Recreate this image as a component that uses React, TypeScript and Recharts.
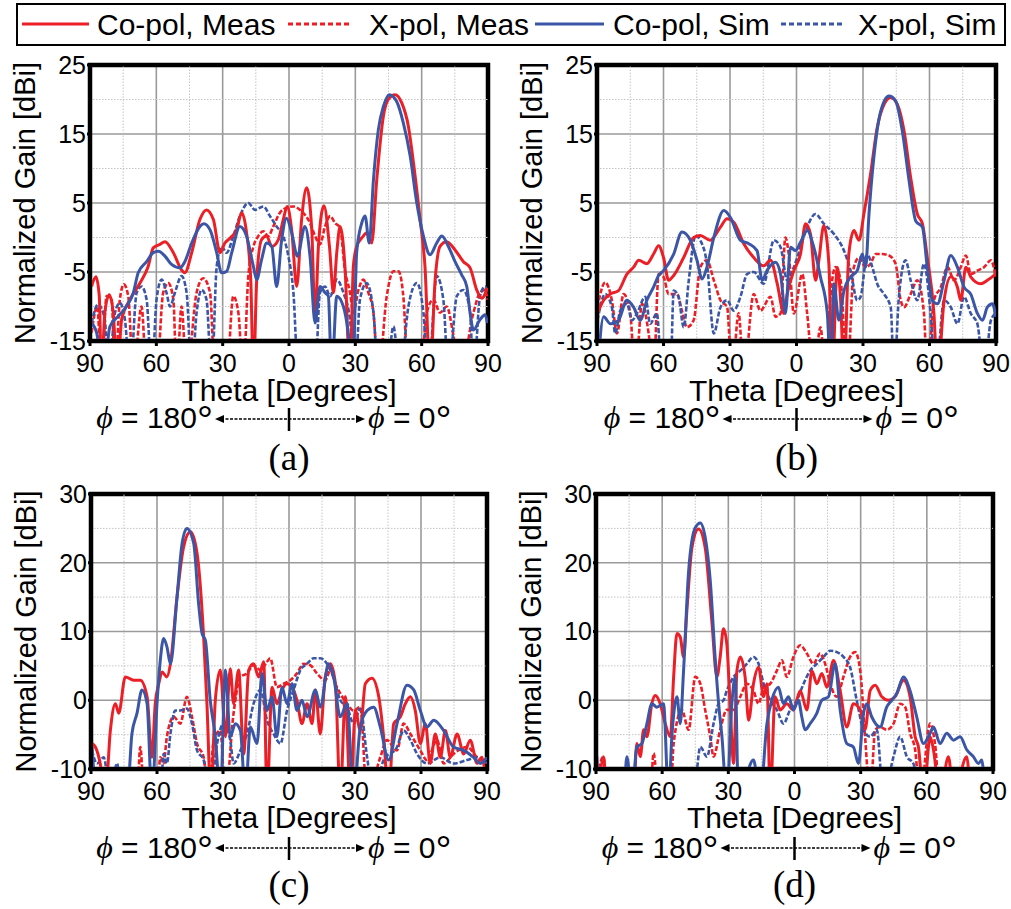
import React from "react";
import { CartesianGrid, Line, LineChart, ReferenceArea, ReferenceLine, XAxis, YAxis } from "recharts";

type Pt = [number, number];

const FONT = "'Liberation Sans', Arial, Helvetica, sans-serif";
const SERIF = "'Liberation Serif', 'Times New Roman', serif";
const RED = "#ec1f26";
const BLUE = "#3b56a6";

const thetaTicks = [-90, -60, -30, 0, 30, 60, 90];
const thetaMinor = [-75, -45, -15, 15, 45, 75];
const gainTicksAB = [-15, -5, 5, 15, 25];
const gainMinorAB = [-10, 0, 10, 20];
const gainTicksCD = [-10, 0, 10, 20, 30];
const gainMinorCD = [-5, 5, 15, 25];

const seriesNames = ["Co-pol, Meas", "X-pol, Meas", "Co-pol, Sim", "X-pol, Sim"];
const captions = ["(a)", "(b)", "(c)", "(d)"];

// (a)
const aCoMeas: Pt[] = [[-89.3,-7.1],[-87.3,-5.7],[-85.8,-8.5],[-84.8,-20],[-83.3,-10.9],[-81.3,-8.3],[-79.5,-10.9],[-77.7,-20],[-75.7,-11.9],[-71.9,-9],[-67.4,-6.6],[-63.7,-4.2],[-61.4,-1.5],[-58.4,-1],[-56.1,-0.6],[-52.3,-2.2],[-48.6,-4.7],[-47.1,-5.1],[-44,-2.2],[-40.3,2.6],[-37.3,4],[-34.2,2.6],[-31.2,-2.2],[-29,-0.8],[-26.7,-0.1],[-23.7,1.1],[-21.4,3.6],[-19.2,0.7],[-17.3,-6.1],[-16.1,-20],[-14.6,-6.1],[-12.4,-0.3],[-10.1,0.2],[-7.8,-1.3],[-4.8,-0.3],[-2.6,2.6],[-0.8,4.5],[1.2,1.1],[3.5,-7.1],[5.7,2.6],[8,7.2],[10.3,1.1],[11.8,-11.9],[13.3,-1.3],[15.8,4.6],[18.3,-1.3],[20.1,-8],[21.6,-2.2],[23.1,1.6],[25.3,-4.2],[27.6,-20],[29.1,-4.2],[30.6,-1.3],[33.6,0.2],[35.1,0.7],[37.4,-0.8],[39.7,8.4],[42.7,17.6],[44.9,20],[48,20.7],[51,19.5],[54,16.1],[56.3,10.8],[59.3,2.6],[61.5,-4.2],[63.8,-20],[66.1,-6.1],[68.3,-1.3],[71.3,-0.6],[75.1,-1.8],[78.9,-3.5],[81.9,-4.4],[84.9,-7.6],[87.2,-8.8],[89.7,-7.3]];
const aCoSim: Pt[] = [[-89.3,-12.4],[-87,-13.8],[-84,-20],[-81,-12.9],[-77.2,-11.4],[-73.5,-10],[-70.4,-8],[-68.2,-5.1],[-64.4,-3.5],[-61.4,-2.2],[-59.1,-2],[-56.1,-2.7],[-53.1,-3.9],[-49.3,-4.4],[-47.1,-3.5],[-44,-0.8],[-40.3,1.6],[-38.5,2],[-35.7,1.1],[-32.7,-2.2],[-30.5,-5.1],[-28.2,-4.9],[-25.9,-2.2],[-22.2,1.6],[-19.2,0.2],[-16.1,-4.2],[-14.6,-6.1],[-12.4,-3.2],[-10.1,-0.8],[-7.8,-1.3],[-5.6,-7.1],[-3.3,-0.3],[-1.1,2.8],[1.2,0.7],[3.8,-2.7],[7.2,1.6],[9.5,-2.7],[11.8,-12.4],[14,-7.1],[16.3,-8],[17.8,-8.5],[19.3,-20],[21.6,-8.5],[24.6,-10],[26.8,-13.8],[28.8,-20],[30.6,-2.2],[32.9,2.1],[34.4,3.1],[36.3,-0.8],[38.2,8.4],[40.4,15.6],[42.7,19],[45.4,20.7],[48.7,19.7],[51.7,16.6],[54.8,11.8],[57.8,5],[60.8,0.2],[63.8,-2.5],[66.8,-0.8],[69.1,0.2],[72.1,-1.3],[75.1,-3.5],[78.1,-5.4],[80.4,-7.1],[81.9,-10.9],[83.4,-13.4],[86.4,-11.9],[88.7,-11.2],[89.7,-12.4]];
const aXMeas: Pt[] = [[-89.3,-13.8],[-86.7,-10],[-84.8,-20],[-82.5,-8.5],[-80.2,-9],[-78.7,-20],[-76.5,-9],[-74.7,-6.8],[-72.7,-8.5],[-70.4,-20],[-66.7,-10],[-64.4,-20],[-59.9,-20],[-56.9,-8],[-54.6,-6.6],[-52.3,-9],[-50.8,-20],[-48.6,-10],[-46.3,-20],[-41.8,-8],[-38.8,-5.9],[-35.7,-8],[-33.5,-20],[-28.2,-20],[-25.2,-8.5],[-22.9,-10.9],[-20.7,-20],[-18.4,-5.6],[-16.1,-1.3],[-13.9,0.2],[-11.6,0.9],[-9.4,0.2],[-7.1,1.6],[-4.1,3.6],[-1.1,4.3],[2,4.5],[5,4],[7.2,3.3],[9.5,2.1],[11.8,0.2],[14,-1],[16.3,1.6],[18.6,3.1],[20.8,2.1],[23.1,1.4],[25.3,-4.7],[27.6,-8],[29.1,-10.9],[31.4,-7.6],[33.6,-6.1],[35.9,-8],[38.2,-10.9],[40.4,-20],[44.2,-8.5],[47.2,-4.9],[49.5,-4.9],[51.7,-8.5],[54,-20],[59.3,-20],[62.3,-10.9],[65.3,-9],[68.3,-10.9],[71.3,-10],[74.4,-14.3],[77.4,-20],[83.4,-10.9],[86.4,-8],[88.7,-7.6],[89.7,-9]];
const aXSim: Pt[] = [[-89.3,-12.4],[-86.3,-9.7],[-83.3,-11.9],[-81.7,-20],[-78.7,-10.9],[-76.5,-9.5],[-74.2,-11.9],[-71.9,-20],[-68.9,-8],[-66.7,-7.1],[-64.4,-9],[-62.1,-20],[-59.9,-9],[-57.6,-6.1],[-55.4,-8],[-53.8,-10],[-51.6,-8],[-48.6,-5.6],[-46.3,-8],[-44,-20],[-41.8,-10.9],[-39.5,-7.6],[-37.3,-9],[-35,-20],[-32.7,-4.2],[-30.5,-1.3],[-28.2,-2.2],[-25.2,0.2],[-22.2,3.1],[-18.4,5],[-15.4,4],[-11.6,4.5],[-8.6,3.1],[-5.6,1.6],[-2.6,0.2],[-0.3,-2.7],[2,-8],[4.2,-20],[11.8,-20],[14,-8],[16.3,-7.1],[18.6,-8.5],[21.6,-6.1],[24.6,-8],[27.6,-11.9],[29.9,-20],[32.1,-9],[35.1,-6.6],[38.2,-10.9],[40.4,-20],[44.2,-20],[47.2,-12.9],[50.2,-20],[54,-10],[57.8,-6.6],[60.8,-10.9],[63,-20],[66.8,-5.6],[69.8,-9],[72.1,-20],[75.9,-8.5],[78.9,-7.6],[81.9,-10.9],[83.4,-20],[86.4,-8.5],[88.7,-7.1],[89.7,-8]];

// (b)
const bCoMeas: Pt[] = [[-89.8,-11],[-87,-9.1],[-84,-8.2],[-80.3,-7.7],[-76.5,-5.3],[-73.5,-4.3],[-71.2,-3.3],[-67.5,-3.8],[-64.5,-2.4],[-62.2,-1.2],[-60,-2.9],[-57.7,-6.2],[-55.4,-5.5],[-50.9,-2.9],[-46.4,0],[-43.4,0.3],[-38.9,-0.4],[-34.3,1.5],[-31.3,2.7],[-28.3,2.2],[-23.8,-0.9],[-19.3,-2.9],[-14.8,-4.1],[-11.7,-3.3],[-8.7,-6.7],[-5.7,-11],[-4.2,-8.2],[-1.2,-4.8],[1.8,-2.4],[4.1,2],[6.3,0.5],[8.6,-6.2],[10.1,-3.3],[12.3,1.7],[14.6,-3.8],[16.1,-20],[18.4,-4.3],[19.9,-9.1],[21.4,-20],[23.6,-2.4],[25.9,1],[28.2,-0.4],[30.4,3.4],[33.4,9.2],[36.4,15.9],[39.5,19.3],[42.5,20.3],[45.5,19.3],[48.5,15.5],[51.5,8.7],[54.5,3.4],[56.8,2],[59,-2.9],[62,-11],[63.6,-20],[66.6,-9.1],[69.6,-5.7],[72.6,-7.2],[74.1,-9.1],[76.4,-4.3],[78.6,-5.7],[83.1,-6.7],[86.1,-6.2],[89.9,-5.3]];
const bCoSim: Pt[] = [[-89.8,-20],[-87,-11.5],[-84,-12.5],[-80.3,-12],[-76.5,-9.1],[-73.5,-10.1],[-70.5,-12],[-67.5,-9.1],[-64.5,-7.2],[-62.2,-5.5],[-60,-4.8],[-55.4,-2.4],[-51.7,0.8],[-47.9,-0.4],[-44.9,-3.3],[-42.6,-6],[-40.4,-4.3],[-37.3,0],[-32.8,3.9],[-29.8,2.9],[-25.3,-0.4],[-21.5,-0.9],[-17.8,-1.9],[-15.5,-6.2],[-13.3,-4.8],[-9.5,-3.6],[-7.2,-5.3],[-5,-11],[-2.7,-1.4],[-0.5,-1.9],[1.8,-0.7],[4.8,1],[7.8,-1.4],[10.8,-5.7],[13.9,-11],[15.4,-20],[16.9,-6.7],[19.1,-12],[21.4,-7.7],[24.4,-5.7],[27.4,-4.8],[29.7,-2.4],[31.2,-4.3],[32.7,3.4],[34.9,11.6],[38,18.3],[41.7,20.5],[44.7,19.8],[47.7,15.5],[50.8,8.2],[53.8,2.4],[56.8,1.5],[59,-4.3],[61.3,-9.1],[63.6,-9.6],[66.6,-6.2],[69.6,-2.6],[72.6,-4.3],[75.6,-7.2],[78.6,-8.2],[81.6,-11],[83.9,-12],[86.1,-10.1],[88.4,-9.6],[89.9,-11.5]];
const bXMeas: Pt[] = [[-89.8,-10.1],[-86.3,-6.5],[-83.3,-9.1],[-81,-13.9],[-78,-8.2],[-75,-11],[-72.7,-20],[-69.7,-9.6],[-66.7,-13.9],[-64.5,-20],[-62.2,-5.3],[-60,-5.7],[-57.7,-8.2],[-53.9,-8.2],[-51.7,-10.6],[-49.4,-13],[-46.4,-12],[-43.4,-4.3],[-40.4,-3.3],[-37.3,-6.2],[-34.3,-9.1],[-31.3,-10.1],[-29.1,-20],[-26.1,-11],[-23.8,-20],[-19.3,-8.2],[-16.3,-10.6],[-11.7,-8.6],[-9.5,-11.5],[-7.2,-11],[-5,0],[-3.5,-2.4],[-1.2,-11],[2.6,-5.3],[4.8,-11],[7.8,-20],[10.8,-13],[13.1,-20],[15.4,-8.2],[17.6,-4.3],[19.9,-6.2],[22.9,-20],[25.9,-4.3],[28.2,-2.9],[31.2,-4.3],[33.4,-3.8],[35.7,-2.4],[38.7,-2.4],[41.7,-2.6],[44.7,-3.8],[47,-9.1],[48.5,-10.1],[51.5,-8.2],[54.5,-6.2],[57.5,-11],[59,-20],[62,-9.1],[65.1,-7.2],[68.1,-4.3],[71.1,-6.2],[74.1,-4.3],[76.4,-2.6],[78.6,-5.3],[81.6,-4.8],[84.6,-4.3],[87.7,-3.3],[89.9,-5.7]];
const bXSim: Pt[] = [[-89.8,-12],[-86.3,-8.2],[-83.3,-10.1],[-81.8,-13.9],[-79.5,-10.6],[-76.5,-9.6],[-74.2,-12],[-72,-11],[-68.2,-8.6],[-66,-12.5],[-63,-11],[-60.7,-20],[-56.9,-20],[-55.4,-7.7],[-53.2,-8.6],[-50.9,-13],[-48.6,-6.2],[-45.5,0.3],[-43.4,-0.4],[-40.4,-3.8],[-37.3,-13.9],[-34.3,-10.1],[-31.3,-9.1],[-28.3,-10.6],[-25.3,-8.6],[-22.3,-5.3],[-19.3,-5],[-14.8,-6.7],[-10.2,-0.4],[-7.2,-1.4],[-4.2,-6.2],[-1.2,-4.3],[1.8,-1.4],[4.8,1.5],[8.6,3.4],[12.3,2],[16.9,0.5],[21.4,-1.9],[24.4,-4.8],[27.4,-9.1],[28.9,-8.6],[31.9,-2.4],[34.2,-4.3],[36.4,-6.7],[39.5,-8.2],[42.5,-10.1],[44,-20],[46.2,-8.6],[49.2,-3.3],[51.5,-6.2],[54.5,-9.1],[57.5,-3.8],[60.5,-11],[62.8,-20],[66.6,-9.1],[69.6,-10.1],[72.6,-12.5],[75.6,-8.6],[78.6,-11],[81.6,-12.5],[84.6,-20],[87.7,-12],[89.9,-11]];

// (c)
const cCoMeas: Pt[] = [[-89.5,-6.3],[-88,-6.8],[-85.8,-9.2],[-83.5,-14],[-81.2,-4.4],[-78.9,-0.5],[-77.4,-1.9],[-74.4,3.4],[-70.6,2.9],[-67.6,2.9],[-64.5,0.5],[-62.3,-8.3],[-60.8,-0.5],[-59.2,2.4],[-57.7,4.1],[-55.5,3.4],[-53.9,5.3],[-50.9,15],[-47.9,22.3],[-44.8,24.5],[-41.8,21.4],[-38.8,9.2],[-37.3,-0.5],[-35.5,-14],[-33.5,0],[-31.2,4.4],[-28.9,-5.3],[-26.7,4.6],[-25.2,-0.5],[-22.9,4.4],[-20.6,-7.8],[-18.3,4.4],[-16.1,5.3],[-13.8,3.4],[-11.5,5.6],[-10,-14],[-7.7,1.9],[-5.5,-0.5],[-3.2,1.5],[-0.9,2.4],[1.4,1.9],[3.6,0],[5.9,-3.4],[8.2,-0.5],[10.5,-3.4],[12,1.5],[14.2,-4.9],[16.5,3.4],[18.8,5.3],[21.1,2.4],[23.3,-14],[25.6,0.5],[27.9,-14],[30.2,-1.5],[32.4,-4.4],[34.7,2.4],[37.7,3.2],[40.8,0.5],[43,-5.3],[45.3,-14],[47.6,-3.4],[50.6,-2.4],[52.9,-0.5],[55.2,0.5],[57.4,-1.5],[59.7,-6.3],[62,-3.4],[64.2,-9.2],[66.5,-4.9],[68.8,-8.3],[71.1,-4.4],[73.3,-8.3],[76.4,-4.9],[79.4,-7.8],[82.4,-5.8],[85.5,-9.2],[87.7,-8.3],[89.7,-14]];
const cCoSim: Pt[] = [[-89.5,-6.8],[-87.3,-14],[-73.6,-14],[-71.4,-4.9],[-69.1,-1.9],[-66.8,1.5],[-64.5,-0.5],[-62.3,-14],[-60,-0.5],[-58.5,5.8],[-57,9],[-55.5,7.8],[-53.9,5.3],[-50.9,15],[-48.6,22.8],[-46.4,25],[-43.3,22.8],[-41.1,14.1],[-39.5,9.7],[-38,8.7],[-35.8,0],[-33.5,-5.3],[-31.2,-14],[-28.9,4.4],[-26.7,-5.3],[-24.4,-3.4],[-22.1,-4.4],[-19.8,-14],[-17.6,-3.9],[-14.5,-6.3],[-12.3,3.9],[-10,-1.5],[-7.7,0.5],[-5.5,-5.3],[-3.2,1.9],[-0.9,-0.5],[1.4,2.4],[3.6,-1.5],[5.9,0],[8.2,-2.4],[12,1.5],[14.2,-1],[18,5.3],[20.3,3.4],[23.3,-2.4],[26.4,-0.5],[29.4,-14],[32.4,-3.9],[35.5,-1.5],[38.5,-1],[41.5,-3.9],[45.3,-8.7],[49.1,-3.4],[53.6,2.2],[56.7,1.5],[59.7,-1.5],[62.7,-3.9],[65.8,-2.9],[70.3,-4.4],[74.8,-6.8],[79.4,-7.3],[83.9,-8.3],[87,-9.2],[90,-8.3]];
const cXMeas: Pt[] = [[-89.5,-14],[-69.1,-14],[-67.6,-6.8],[-65.8,-14],[-60,-14],[-58.5,-8.3],[-57,-9.2],[-55.5,-5.3],[-52.4,-2.4],[-49.4,-3.4],[-46.4,0.5],[-44.1,-2.4],[-41.8,-6.3],[-38.8,-8.3],[-36.5,-14],[-34.2,-5.8],[-31.2,-4.4],[-28.9,-14],[-25.2,-1.9],[-22.1,3.4],[-19.1,3.9],[-16.1,5.1],[-13,4.4],[-10,5.6],[-8.5,6.1],[-5.5,1.9],[-2.4,2.4],[0.6,2.9],[3.6,3.9],[6.7,5.3],[9.7,5.1],[12.7,3.9],[16.5,2.9],[18.8,4.4],[21.1,2.4],[23.3,1],[26.4,-0.5],[29.4,-1.5],[32.4,-1],[35.5,-14],[41.5,-8.3],[44.5,-5.8],[49.1,-7.3],[52.1,-3.4],[55.2,-4.9],[59.7,-7.3],[62.7,-8.7],[67.3,-5.8],[70.3,-9.2],[74.8,-7.8],[80.9,-6.8],[85.5,-8.3],[89.2,-9.2]];
const cXSim: Pt[] = [[-89.5,-7.3],[-87.3,-9.2],[-84.2,-8.3],[-81.2,-14],[-78.2,-9.2],[-75.9,-14],[-58.5,-14],[-57,-7.8],[-55.5,-9.2],[-53.9,-4.9],[-51.7,-1.5],[-49.4,-1.5],[-46.4,-1.2],[-44.1,-3.4],[-41.8,-7.3],[-38.8,-8.7],[-35.8,-14],[-32.7,-6.3],[-29.7,-3.4],[-26.7,-5.8],[-25.2,-9.2],[-22.1,-7.3],[-19.1,-4.9],[-16.1,-0.5],[-13,1.5],[-10,-2.9],[-7,-4.9],[-3.9,-6.3],[-0.9,-1.5],[2.1,1.5],[5.2,4.4],[8.2,5.3],[11.2,6.1],[14.2,6.1],[17.3,5.3],[20.3,3.2],[23.3,0],[26.4,-1],[29.4,-3.4],[32.4,-1.2],[35.5,-8.3],[38.5,-14],[43,-8.7],[49.1,-6.8],[52.1,-4.4],[55.2,-5.8],[58.2,-7.8],[62.7,-9.2],[68.8,-8.3],[74.8,-9.2],[80.9,-8.7],[85.5,-8.3],[90,-9.2]];

// (d)
const dCoMeas: Pt[] = [[-88.8,-14],[-86.6,-8.2],[-85,-14],[-73,-14],[-71.5,-6.3],[-69.9,-8.2],[-68.4,-4.3],[-66.9,-5.3],[-64.7,-0.5],[-63.1,0.7],[-60.9,-0.5],[-58.6,-3.4],[-56.3,-5.3],[-54.8,3.4],[-53.3,9.7],[-51.8,9.2],[-50.3,6.3],[-48.8,13],[-46.5,22.2],[-43.5,24.9],[-40.5,22.2],[-37.5,11.6],[-35.2,3.4],[-33.7,6.3],[-32.2,10.4],[-30.7,8.2],[-29.2,-0.5],[-27.6,-9.2],[-26.1,4.3],[-24.6,6.3],[-22.4,3.4],[-20.8,-2.9],[-18.6,2.4],[-16.3,4.8],[-14,0.5],[-12.5,2.4],[-11,-14],[-8.8,0.5],[-6.5,-1.4],[-3.5,-0.5],[-0.5,-1.4],[2.6,1.4],[5.6,-1.4],[7.9,4.3],[10.1,2.4],[12.4,3.9],[14.7,1.9],[17.7,5.8],[20.7,1.4],[23.7,-3.9],[26.7,-0.5],[29.8,-1.4],[32,-4.3],[34.3,1.4],[36.6,2.2],[39.6,0.5],[42.6,0],[45.6,0.5],[49.4,2.9],[52.4,0.5],[54.7,-5.3],[56.2,-6.8],[58.5,-14],[61.5,-5.3],[63,-7.2],[66,-14],[69.8,-8.2],[72.1,-14],[78.1,-8.2],[79.6,-14]];
const dCoSim: Pt[] = [[-89.6,-8.2],[-88.1,-14],[-77.5,-14],[-76,-8.2],[-73.7,-14],[-71.5,-6.8],[-69.2,-6.3],[-66.9,-3.4],[-64.7,-0.5],[-62.4,-1],[-59.4,-0.5],[-57.1,-14],[-55.6,-5.3],[-53.3,0.5],[-51.8,-3.4],[-50.3,4.3],[-48,18.8],[-45,25.1],[-42.7,25.8],[-40.5,23.7],[-38.2,17.4],[-36,6.3],[-34.4,-0.5],[-32.9,-5.3],[-30.7,-14],[-28.4,-0.5],[-26.9,3.4],[-25.4,-14],[-18.6,-8.7],[-15.6,-14],[-12.5,-3.4],[-10.3,0],[-7.3,1.9],[-5,-0.5],[-2.7,0.5],[-0.5,-1.4],[1.8,0],[3.3,-2.4],[4.8,-4.3],[7.1,-3.4],[10.1,-1.9],[12.4,0],[15.4,0.5],[18.4,5.3],[20.7,-1.4],[23.7,-6.3],[26.7,-6.8],[29,-9.2],[31.3,-1.9],[32.8,-0.5],[35,-2.4],[38.8,-3.9],[41.8,-1],[44.1,0],[46.4,1],[49.4,3.4],[52.4,1.4],[55.4,-2.4],[58.5,-6.3],[61.5,-4.8],[63,-3.9],[66,-6.3],[69,-4.8],[72.1,-5.8],[75.1,-5.3],[78.1,-7.2],[81.1,-8.2],[83.4,-9.2],[84.9,-8.7],[86.4,-14]];
const dXMeas: Pt[] = [[-89.6,-14],[-88.1,-9.2],[-86.6,-8.2],[-85,-14],[-65.4,-14],[-63.9,-7.7],[-61.6,-14],[-56.3,-14],[-54.8,-6.3],[-51.1,-1.4],[-48,-4.3],[-45,3.4],[-42.7,2.4],[-40.5,-1.4],[-38.2,-5.3],[-36.7,-8.2],[-33.7,-4.3],[-30.7,-1.4],[-27.6,-1.4],[-24.6,0.5],[-21.6,2.4],[-18.6,1.4],[-16.3,-0.5],[-14,1.9],[-11,2.4],[-8,4.3],[-5.7,5.8],[-3.5,3.4],[-0.5,6.3],[2.6,8],[5.6,6.8],[8.6,5.3],[11.6,6.8],[13.9,5.3],[16.2,2.4],[19.2,0.5],[22.2,3.4],[25.2,6.3],[27.5,7],[29.8,4.3],[32,-5.3],[34.3,-14],[36.6,-4.3],[38.8,-3.9],[41.8,-4.3],[44.9,-3.4],[47.9,-0.5],[50.2,-1],[52.4,-4.8],[54.7,-7.2],[56.9,-14],[61.5,-3.4],[63.7,-6.3],[66,-14],[70.5,-14]];
const dXSim: Pt[] = [[-89.6,-14],[-45.8,-14],[-42.7,-6.8],[-39.7,-8.2],[-36.7,-3.4],[-34.4,-0.5],[-32.2,0],[-30.7,1.4],[-27.6,3.4],[-24.6,4.3],[-21.6,5.3],[-18.6,6.3],[-16.3,5.3],[-14,2.4],[-11,0],[-8,-1.4],[-5,-3.4],[-2,-1.4],[1.1,0],[4.1,2.4],[7.1,4.3],[10.1,5.3],[13.1,6.3],[16.2,7.2],[19.2,7],[22.2,6.3],[25.2,4.8],[28.2,0],[31.3,-4.3],[34.3,-5.3],[37.3,-4.3],[40.3,-14],[44.9,-8.2],[47.9,-5.3],[50.9,-8.2],[53.9,-9.2],[56.9,-14],[90,-14]];

const toPts = (arr: Pt[]) => arr.map(([t, g]) => ({ t, g }));

type PanelDef = {
  px: number; py: number; pw: number; ph: number;
  yTicks: number[]; yMinor: number[];
  coMeas: Pt[]; xMeas: Pt[]; coSim: Pt[]; xSim: Pt[];
};

const panels: PanelDef[] = [
  { px: 90, py: 65, pw: 398, ph: 276, yTicks: gainTicksAB, yMinor: gainMinorAB, coMeas: aCoMeas, xMeas: aXMeas, coSim: aCoSim, xSim: aXSim },
  { px: 597, py: 65, pw: 399, ph: 276, yTicks: gainTicksAB, yMinor: gainMinorAB, coMeas: bCoMeas, xMeas: bXMeas, coSim: bCoSim, xSim: bXSim },
  { px: 91, py: 494, pw: 396, ph: 275, yTicks: gainTicksCD, yMinor: gainMinorCD, coMeas: cCoMeas, xMeas: cXMeas, coSim: cCoSim, xSim: cXSim },
  { px: 596, py: 494, pw: 397, ph: 275, yTicks: gainTicksCD, yMinor: gainMinorCD, coMeas: dCoMeas, xMeas: dXMeas, coSim: dCoSim, xSim: dXSim },
];

const M = { top: 20, right: 25, bottom: 0, left: 0 };
const YW = 60;
const XH = 40;

function Panel({ p }: { p: PanelDef }) {
  const lo = p.yTicks[0];
  const hi = p.yTicks[p.yTicks.length - 1];
  const tickStyle = { fontSize: 25, fill: "#000", fontFamily: FONT };
  return (
    <div style={{ position: "absolute", left: p.px - YW, top: p.py - M.top }}>
      <LineChart width={p.pw + YW + M.right} height={p.ph + M.top + XH} margin={M}>
        <CartesianGrid stroke="#9a9a9a" strokeWidth={1.6} />
        {thetaMinor.map((v) => (
          <ReferenceLine key={"vx" + v} x={v} stroke="#c4c4c4" strokeWidth={1} strokeDasharray="1.5 1.5" />
        ))}
        {p.yMinor.map((v) => (
          <ReferenceLine key={"hy" + v} y={v} stroke="#c4c4c4" strokeWidth={1} strokeDasharray="1.5 1.5" />
        ))}
        <XAxis
          type="number"
          dataKey="t"
          domain={[-90, 90]}
          ticks={thetaTicks}
          interval={0}
          allowDataOverflow
          height={XH}
          tickFormatter={(v: number) => String(Math.abs(v))}
          tick={tickStyle}
          tickSize={5}
          tickMargin={8}
          axisLine={{ stroke: "#000", strokeWidth: 4 }}
          tickLine={{ stroke: "#000", strokeWidth: 3 }}
        />
        <YAxis
          type="number"
          domain={[lo, hi]}
          ticks={p.yTicks}
          interval={0}
          allowDataOverflow
          width={YW}
          tick={tickStyle}
          tickSize={3}
          tickMargin={1}
          axisLine={{ stroke: "#000", strokeWidth: 4 }}
          tickLine={{ stroke: "#000", strokeWidth: 3 }}
        />
        <Line data={toPts(p.xMeas)} dataKey="g" type="monotone" stroke={RED} strokeWidth={2.6} strokeDasharray="5 2" dot={false} isAnimationActive={false} />
        <Line data={toPts(p.xSim)} dataKey="g" type="monotone" stroke={BLUE} strokeWidth={2.6} strokeDasharray="5 2" dot={false} isAnimationActive={false} />
        <Line data={toPts(p.coMeas)} dataKey="g" type="monotone" stroke={RED} strokeWidth={3} dot={false} isAnimationActive={false} />
        <Line data={toPts(p.coSim)} dataKey="g" type="monotone" stroke={BLUE} strokeWidth={3} dot={false} isAnimationActive={false} />
        <ReferenceArea x1={-90} x2={90} y1={lo} y2={hi} fill="none" fillOpacity={0} stroke="#000" strokeWidth={4.5} />
      </LineChart>
    </div>
  );
}

function PanelText({ p, idx }: { p: PanelDef; idx: number }) {
  const cx = p.px + p.pw / 2;
  const cy = p.py + p.ph / 2;
  const top = idx < 2;
  const labelX = p.px - 55;
  const titleBase = top ? 401 : 828;
  const phiBase = top ? 428 : 858;
  const ay = top ? 419 : 848;
  const capBase = top ? 470 : 897;
  return (
    <g>
      <text transform={`translate(${labelX},${cy}) rotate(-90)`} textAnchor="middle" fontSize={29} fontFamily={FONT} fill="#000">
        Normalized Gain [dBi]
      </text>
      <text x={cx} y={titleBase} textAnchor="middle" fontSize={30} fontFamily={FONT} fill="#000">
        Theta [Degrees]
      </text>
      <text x={cx - 76} y={phiBase} textAnchor="end" fontSize={30} fontFamily={FONT} fill="#000">
        <tspan fontFamily={SERIF} fontStyle="italic" fontSize={32}>ϕ</tspan>
        <tspan> = 180</tspan>
        <tspan fontSize={40} dy={6}>°</tspan>
      </text>
      <text x={cx + 79} y={phiBase} textAnchor="start" fontSize={30} fontFamily={FONT} fill="#000">
        <tspan fontFamily={SERIF} fontStyle="italic" fontSize={32}>ϕ</tspan>
        <tspan> = 0</tspan>
        <tspan fontSize={40} dy={6}>°</tspan>
      </text>
      <line x1={cx - 68} y1={ay} x2={cx + 70} y2={ay} stroke="#000" strokeWidth={1.6} strokeDasharray="3 1.5" />
      <polygon points={`${cx - 74},${ay} ${cx - 65},${ay - 4} ${cx - 65},${ay + 4}`} fill="#000" />
      <polygon points={`${cx + 76},${ay} ${cx + 67},${ay - 4} ${cx + 67},${ay + 4}`} fill="#000" />
      <line x1={cx} y1={ay - 11} x2={cx} y2={ay + 12} stroke="#000" strokeWidth={2.5} />
      <text x={cx} y={capBase} textAnchor="middle" fontSize={37} fontFamily={SERIF} fill="#000">
        {captions[idx]}
      </text>
    </g>
  );
}

const legendItems = [
  { x1: 22, x2: 89, tx: 97, color: RED, dash: undefined as string | undefined },
  { x1: 288, x2: 350, tx: 369, color: RED, dash: "5 3" },
  { x1: 535, x2: 604, tx: 613, color: BLUE, dash: undefined },
  { x1: 781, x2: 845, tx: 858, color: BLUE, dash: "5 3" },
];

export default function App() {
  return (
    <div style={{ position: "absolute", left: 0, top: 0, width: 1011, height: 909, background: "#fff", fontFamily: FONT }}>
      {panels.map((p, i) => (
        <Panel key={i} p={p} />
      ))}
      <svg width={1011} height={909} style={{ position: "absolute", left: 0, top: 0, pointerEvents: "none" }}>
        <rect x={17} y={4} width={988} height={41} fill="#fff" stroke="#000" strokeWidth={2} />
        {legendItems.map((it, i) => (
          <g key={i}>
            <line x1={it.x1} y1={24} x2={it.x2} y2={24} stroke={it.color} strokeWidth={3} strokeDasharray={it.dash} />
            <text x={it.tx} y={35} fontSize={30} fontFamily={FONT} fill="#000">
              {seriesNames[i]}
            </text>
          </g>
        ))}
        {panels.map((p, i) => (
          <PanelText key={i} p={p} idx={i} />
        ))}
      </svg>
    </div>
  );
}
